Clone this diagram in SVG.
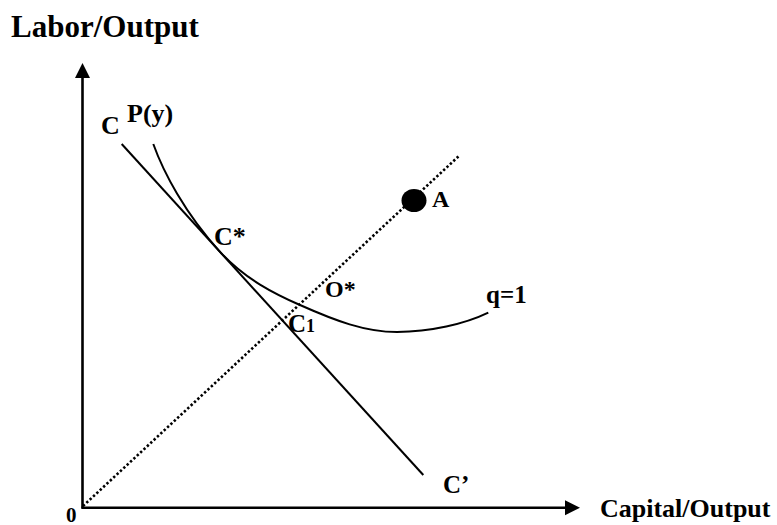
<svg xmlns="http://www.w3.org/2000/svg" width="777" height="525" viewBox="0 0 777 525">
  <style>
    text { font-family: "Liberation Serif", "Times New Roman", serif; font-weight: bold; fill: #000; }
    .axis { stroke: #000; stroke-width: 2.6; fill: none; }
    .solid { stroke: #000; stroke-width: 2; fill: none; }
    .dotted { stroke: #000; stroke-width: 2.6; fill: none; stroke-dasharray: 2.4 2.2; }
  </style>
  <defs>
    <marker id="arrow" markerUnits="userSpaceOnUse" markerWidth="16" markerHeight="16" refX="8" refY="7.5" orient="auto">
      <path d="M0,0 L15,7.5 L0,15 Z" fill="#000"/>
    </marker>
  </defs>
  <rect width="777" height="525" fill="#fff"/>

  <g id="axes">
    <line class="axis" x1="82.5" y1="508.5" x2="82.5" y2="70" marker-end="url(#arrow)"/>
    <line class="axis" x1="81.5" y1="507.7" x2="573" y2="507.7" marker-end="url(#arrow)"/>
    <text x="11" y="37" font-size="31">Labor/Output</text>
    <text x="600" y="517" font-size="26">Capital/Output</text>
    <text x="66" y="522" font-size="21">0</text>
  </g>

  <g id="connectors">
    <line id="budget-line" class="solid" x1="121.7" y1="144" x2="423.3" y2="475"/>
    <path id="isoquant" class="solid" d="M153.3,144 C163.3,172 185,213.4 220,251.8 C245,279.2 275,294 300,305 C335,320.6 365,332 397,332 C430,332 465,324 488.3,312.7"/>
    <line id="ray" class="dotted" x1="83" y1="506" x2="460" y2="155"/>
  </g>

  <g id="node-A">
    <ellipse cx="414" cy="200.5" rx="12.5" ry="11.5" fill="#000"/>
    <text x="432" y="207" font-size="24">A</text>
  </g>
  <g id="node-C">
    <text x="101" y="134" font-size="26">C</text>
  </g>
  <g id="node-Py">
    <text x="127" y="122" font-size="26">P(y)</text>
  </g>
  <g id="node-Cstar">
    <text x="214" y="245" font-size="26">C*</text>
  </g>
  <g id="node-Ostar">
    <text x="325" y="297" font-size="24">O*</text>
  </g>
  <g id="node-C1">
    <text x="288" y="332" font-size="25">C<tspan font-size="18">1</tspan></text>
  </g>
  <g id="node-q1">
    <text x="486" y="303" font-size="25">q=1</text>
  </g>
  <g id="node-Cprime">
    <text x="443" y="493" font-size="25">C’</text>
  </g>
</svg>
